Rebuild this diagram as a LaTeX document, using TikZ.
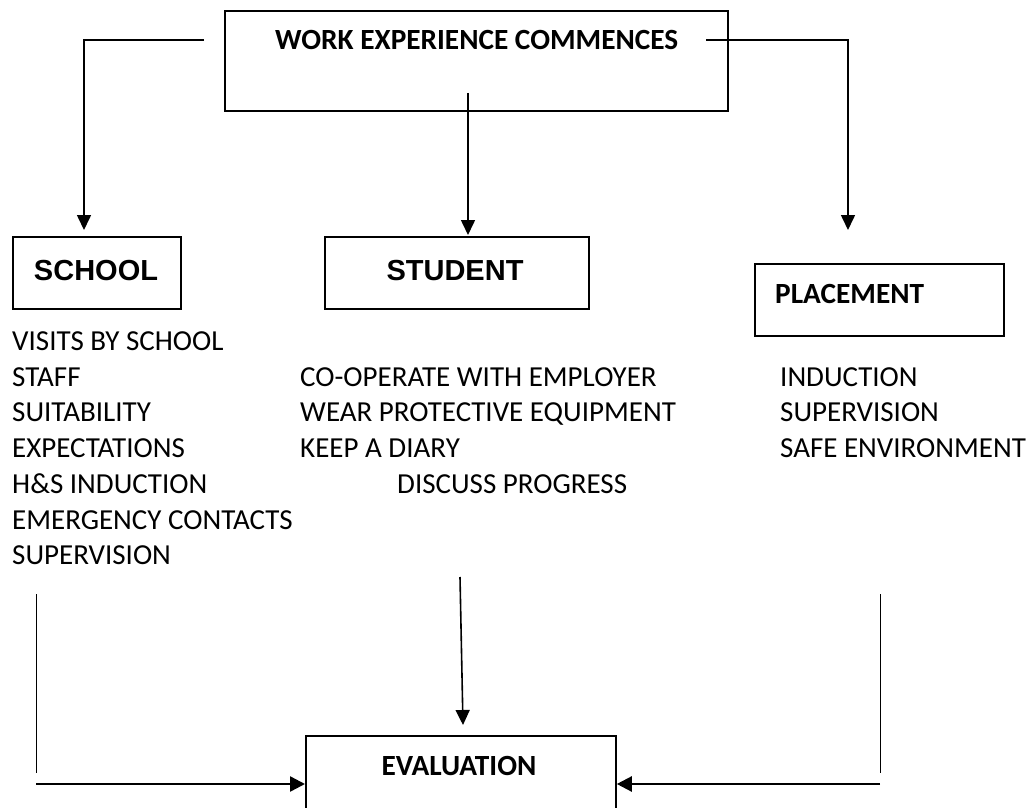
\documentclass[tikz,border=0pt]{standalone}
\usepackage{fontspec}
\setmainfont{Carlito}
\newfontfamily\arialfont{Liberation Sans}
\usetikzlibrary{arrows.meta}
\begin{document}
\begin{tikzpicture}[x=1pt,y=-1pt,
  box/.style={draw,line width=1.8pt,rectangle,inner sep=0pt,anchor=north west},
  conn/.style={line width=1.6pt},
  arr/.style={line width=1.6pt,-{Triangle[width=14pt,length=15pt]}},
  thin/.style={line width=1pt},
  harr/.style={line width=2.4pt,-{Triangle[width=15pt,length=15pt]}},
  lbl/.style={anchor=base west,inner sep=0pt,font=\fontsize{29}{30}\selectfont},
  btitle/.style={inner sep=0pt,font=\fontsize{29.3}{32}\selectfont\bfseries},
  atitle/.style={inner sep=0pt,font=\fontsize{29}{32}\selectfont\arialfont\bfseries}]
\useasboundingbox (0,0) rectangle (1029,808);
% boxes
\node[box,minimum width=503pt,minimum height=100pt] (top) at (224,10) {};
\node[btitle,anchor=base west] (toptext) at (275,49.5) {WORK EXPERIENCE COMMENCES};
\node[box,minimum width=168pt,minimum height=72pt] (school) at (12,236) {};
\node[atitle,anchor=base] (schooltext) at (96,280) {SCHOOL};
\node[box,minimum width=264pt,minimum height=72pt] (student) at (324,236) {};
\node[atitle,anchor=base] (studenttext) at (455,280) {STUDENT};
\node[box,minimum width=249pt,minimum height=72pt] (placement) at (754,263) {};
\node[btitle,anchor=base west] (placementtext) at (775,303.5) {PLACEMENT};
\node[box,minimum width=310pt,minimum height=73pt] (eval) at (305,735) {};
\node[btitle,anchor=base] (evaltext) at (459,775) {EVALUATION};
% lists
\node[lbl] (s1) at (12,350) {VISITS BY SCHOOL};
\node[lbl] (s2) at (12,386) {STAFF};
\node[lbl] (s3) at (12,421) {SUITABILITY};
\node[lbl] (s4) at (12,457) {EXPECTATIONS};
\node[lbl] (s5) at (12,493) {H\&S INDUCTION};
\node[lbl] (s6) at (12,529) {EMERGENCY CONTACTS};
\node[lbl] (s7) at (12,564) {SUPERVISION};
\node[lbl] (t1) at (300,386) {CO-OPERATE WITH EMPLOYER};
\node[lbl] (t2) at (300,421) {WEAR PROTECTIVE EQUIPMENT};
\node[lbl] (t3) at (300,457) {KEEP A DIARY};
\node[lbl] (t4) at (397,493) {DISCUSS PROGRESS};
\node[lbl] (p1) at (780,386) {INDUCTION};
\node[lbl] (p2) at (780,421) {SUPERVISION};
\node[lbl] (p3) at (780,457) {SAFE ENVIRONMENT};
% connector coordinates
\coordinate (lstart) at (204,40);
\coordinate (lcorner) at (84,40);
\coordinate (ltip) at (84,230);
\coordinate (mstart) at (468,93);
\coordinate (mtip) at (468,235);
\coordinate (rstart) at (706,40);
\coordinate (rcorner) at (848,40);
\coordinate (rtip) at (848,230);
\coordinate (bmstart) at (460,577);
\coordinate (bmtip) at (463,725);
\coordinate (blv1) at (36,594);
\coordinate (blv2) at (36,773);
\coordinate (blh) at (36,784);
\coordinate (brv1) at (880,594);
\coordinate (brv2) at (880,773);
\coordinate (brh) at (880,784);
% connectors
\draw[arr] (lstart) -- (lcorner) -- (ltip);
\draw[arr] (mstart) -- (mtip);
\draw[arr] (rstart) -- (rcorner) -- (rtip);
\draw[arr] (bmstart) -- (bmtip);
\draw[thin] (blv1) -- (blv2);
\draw[thin] (brv1) -- (brv2);
\draw[harr] (blh) -- (eval.west |- blh);
\draw[harr] (brh) -- (eval.east |- brh);
\end{tikzpicture}
\end{document}
